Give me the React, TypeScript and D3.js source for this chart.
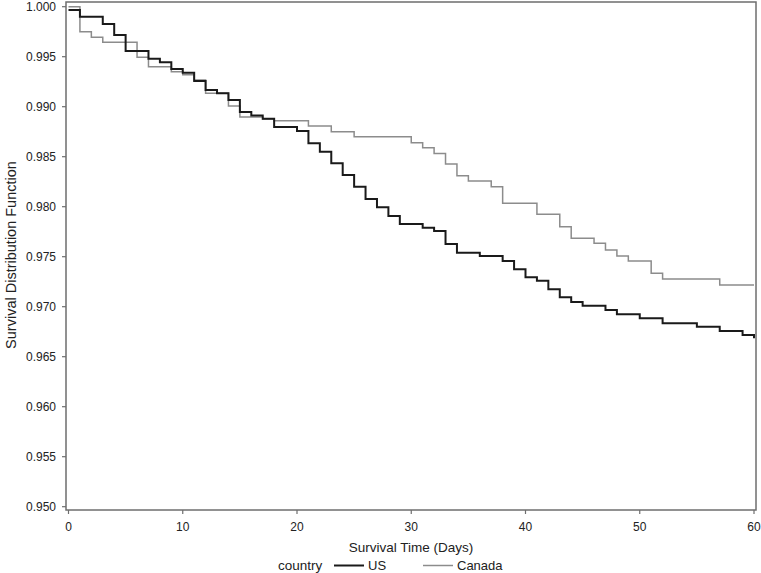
import React from "react";
import * as d3 from "d3";

const usTimes = [0, 1, 3, 4, 5, 7, 8, 9, 10, 11, 12, 13, 14, 15, 16, 17, 18, 20, 21, 22, 23, 24, 25, 26, 27, 28, 29, 31, 32, 33, 34, 36, 38, 39, 40, 41, 42, 43, 44, 45, 47, 48, 50, 52, 55, 57, 59, 60];
const usSurv = [0.99967, 0.999, 0.99827, 0.99717, 0.99557, 0.9948, 0.99444, 0.99377, 0.9934, 0.99257, 0.99167, 0.99134, 0.99067, 0.98946, 0.98913, 0.9888, 0.98797, 0.98757, 0.98634, 0.98549, 0.98434, 0.98317, 0.982, 0.98077, 0.97994, 0.97907, 0.97827, 0.9779, 0.97757, 0.97627, 0.9754, 0.97507, 0.97457, 0.97374, 0.97294, 0.9726, 0.97174, 0.97094, 0.97047, 0.9701, 0.96967, 0.96924, 0.96884, 0.96834, 0.968, 0.96757, 0.96717, 0.96684];

const caTimes = [0, 1, 2, 3, 6, 7, 9, 10, 11, 12, 14, 15, 17, 18, 21, 23, 25, 30, 31, 32, 33, 34, 35, 37, 38, 41, 43, 44, 46, 47, 48, 49, 51, 52, 57, 60];
const caSurv = [1.0, 0.9975, 0.99694, 0.99644, 0.99494, 0.994, 0.9935, 0.9932, 0.99267, 0.99134, 0.99007, 0.98897, 0.98877, 0.9886, 0.98807, 0.9875, 0.987, 0.9864, 0.9859, 0.98533, 0.98427, 0.9831, 0.98257, 0.982, 0.98034, 0.97924, 0.978, 0.97684, 0.97634, 0.97567, 0.97507, 0.97457, 0.97334, 0.97277, 0.97217, 0.97217];

const xTicks = [0, 10, 20, 30, 40, 50, 60];
const yTicks = [0.95, 0.955, 0.96, 0.965, 0.97, 0.975, 0.98, 0.985, 0.99, 0.995, 1.0];

const seriesNames = ["US", "Canada"];
const seriesColors = ["#1a1a1a", "#8c8c8c"];
const seriesWidths = [2, 1.5];

export default function App() {
  const W = 761, H = 573;
  const x = d3.scaleLinear().domain([0, 60]).range([68.5, 754]);
  const y = d3.scaleLinear().domain([0.95, 1.0]).range([506.7, 6.7]);
  const line = d3
    .line<[number, number]>()
    .x((d) => x(d[0]))
    .y((d) => y(d[1]))
    .curve(d3.curveStepAfter);

  const us: [number, number][] = usTimes.map((t, i) => [t, usSurv[i]]);
  const ca: [number, number][] = caTimes.map((t, i) => [t, caSurv[i]]);

  const font = "'Liberation Sans', Arial, sans-serif";
  const txt = "#222";
  const frame = { l: 66, r: 756, t: 2, b: 510 };

  return (
    <svg
      width={W}
      height={H}
      style={{ position: "absolute", left: 0, top: 0, background: "#fff" }}
      fontFamily={font}
    >
      <rect x={0} y={0} width={W} height={H} fill="#fff" />
      <path d={line(ca) || ""} fill="none" stroke={seriesColors[1]} strokeWidth={seriesWidths[1]} />
      <path d={line(us) || ""} fill="none" stroke={seriesColors[0]} strokeWidth={seriesWidths[0]} />
      <rect
        x={frame.l}
        y={frame.t}
        width={frame.r - frame.l}
        height={frame.b - frame.t}
        fill="none"
        stroke="#6e6e6e"
        strokeWidth={1.5}
      />
      {yTicks.map((v) => (
        <g key={"y" + v}>
          <line x1={frame.l - 4} x2={frame.l} y1={y(v)} y2={y(v)} stroke="#6e6e6e" strokeWidth={1.2} />
          <text x={56} y={y(v) + 4.2} textAnchor="end" fontSize={12} fill={txt}>
            {d3.format(".3f")(v)}
          </text>
        </g>
      ))}
      {xTicks.map((v) => (
        <g key={"x" + v}>
          <line x1={x(v)} x2={x(v)} y1={frame.b} y2={frame.b + 4} stroke="#6e6e6e" strokeWidth={1.2} />
          <text x={x(v)} y={531} textAnchor="middle" fontSize={12} fill={txt}>
            {v}
          </text>
        </g>
      ))}
      <text x={411} y={552} textAnchor="middle" fontSize={13.5} fill={txt}>
        Survival Time (Days)
      </text>
      <text
        transform={`translate(16, 255) rotate(-90)`}
        textAnchor="middle"
        fontSize={14.5}
        fill={txt}
      >
        Survival Distribution Function
      </text>
      <text x={278} y={570} fontSize={13.5} fill={txt}>
        country
      </text>
      {seriesNames.map((n, i) => {
        const lx = [334, 423][i];
        return (
          <g key={n}>
            <line x1={lx} x2={lx + 30} y1={565.5} y2={565.5} stroke={seriesColors[i]} strokeWidth={seriesWidths[i]} />
            <text x={lx + 34} y={570} fontSize={13} fill={txt}>
              {n}
            </text>
          </g>
        );
      })}
    </svg>
  );
}
